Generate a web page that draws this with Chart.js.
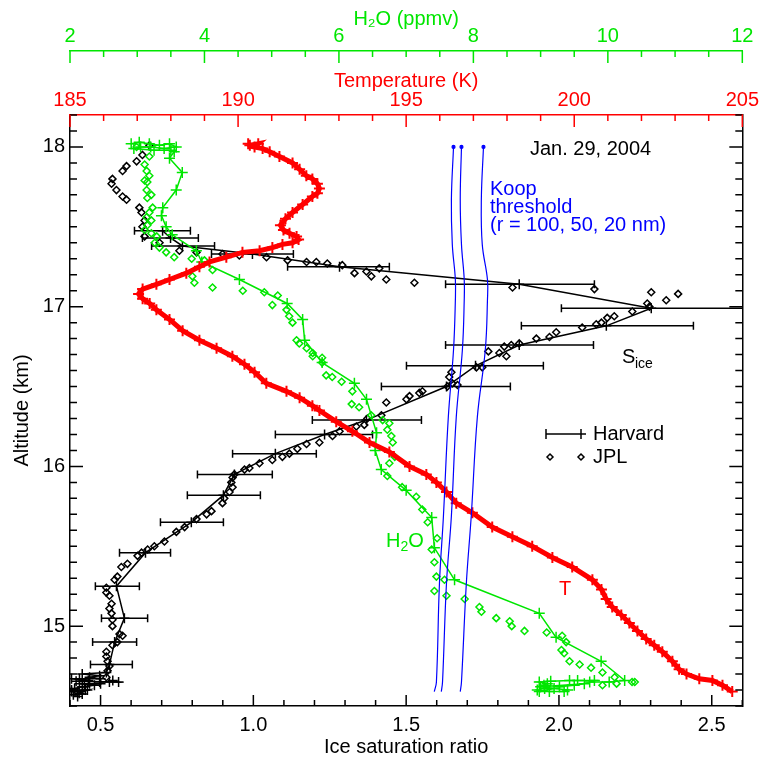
<!DOCTYPE html>
<html>
<head>
<meta charset="utf-8">
<script src="https://cdn.jsdelivr.net/npm/chart.js@4.4.1/dist/chart.umd.min.js"></script>
<style>
  html, body { margin: 0; padding: 0; background: #fff; }
  #wrap { width: 762px; height: 757px; position: relative; }
</style>
</head>
<body>
<div id="wrap"><canvas id="chart"></canvas></div>
<script>
/* ===================== DATA ===================== */
// Harvard S_ice (line + crosses); first entries carry horizontal error bars
const harvAlt = [17.475, 17.43, 17.38, 17.33, 17.25, 17.14, 16.99, 16.88, 16.76, 16.63, 16.50, 16.29, 16.20, 16.08, 15.95, 15.82, 15.65, 15.46, 15.25, 15.05, 14.90, 14.76,
  14.71, 14.70, 14.69, 14.68, 14.67, 14.67, 14.67, 14.66, 14.655, 14.65, 14.66, 14.65, 14.65, 14.64, 14.64, 14.64, 14.63, 14.62, 14.62, 14.61,
  14.60, 14.60, 14.59, 14.59, 14.60, 14.58, 14.575, 14.57, 14.56];
const harvSice = [0.703, 0.729, 0.768, 0.997, 1.282, 1.870, 2.302, 2.155, 1.870, 1.727, 1.632, 1.370, 1.233, 1.072, 0.938, 0.902, 0.797, 0.647, 0.552, 0.578, 0.546, 0.529,
  0.519, 0.440, 0.497, 0.464, 0.500, 0.431, 0.405, 0.460, 0.420, 0.559, 0.540, 0.529, 0.497, 0.500, 0.464, 0.431, 0.480, 0.447, 0.440, 0.415,
  0.405, 0.450, 0.405, 0.425, 0.457, 0.430, 0.440, 0.411, 0.425];
const harvLo = [0.611, 0.637, 0.667, 0.863, 1.112, 1.629, 2.008, 1.877, 1.629, 1.501, 1.419, 1.193, 1.072, 0.932, 0.817, 0.784, 0.696, 0.562, 0.483, 0.503, 0.474, 0.467];
const harvHi = [0.794, 0.820, 0.873, 1.131, 1.445, 2.116, 2.650, 2.440, 2.113, 1.949, 1.841, 1.550, 1.390, 1.206, 1.062, 1.023, 0.902, 0.729, 0.627, 0.654, 0.618, 0.604];

// JPL S_ice (diamonds)
const jplAlt = [18.01, 17.95, 17.91, 17.88, 17.85, 17.80, 17.77, 17.73, 17.69, 17.67, 17.62, 17.59, 17.54, 17.50, 17.44, 17.40, 17.35, 17.34, 17.33, 17.32,
  17.31, 17.29, 17.28, 17.28, 17.27, 17.26, 17.21, 17.22, 17.19, 17.24, 17.17, 17.15, 17.12, 17.11, 17.09, 17.04, 17.08, 17.02, 17.00, 16.97,
  16.94, 16.93, 16.90, 16.89, 16.87, 16.84, 16.81, 16.80, 16.77, 16.76, 16.75, 16.72, 16.71, 16.69, 16.62, 16.62, 16.59, 16.56, 16.51, 16.52,
  16.50, 16.47, 16.46, 16.44, 16.42, 16.40, 16.32, 16.30, 16.26, 16.25, 16.22, 16.19, 16.15, 16.14, 16.11, 16.08, 16.06, 16.04, 16.02, 15.99,
  15.98, 15.95, 15.93, 15.90, 15.87, 15.84, 15.80, 15.77, 15.72, 15.70, 15.67, 15.62, 15.59, 15.53, 15.50, 15.48, 15.46, 15.44, 15.39, 15.37,
  15.31, 15.29, 15.24, 15.21, 15.19, 15.14, 15.11, 15.08, 15.04, 15.00, 14.95, 14.94, 14.90, 14.88, 14.84, 14.81, 14.78, 14.75, 14.72, 14.68];
const jplSice = [0.660, 0.637, 0.618, 0.585, 0.572, 0.539, 0.536, 0.552, 0.572, 0.585, 0.627, 0.634, 0.644, 0.637, 0.644, 0.693, 0.758, 0.814, 0.899, 0.954,
  1.043, 1.112, 1.174, 1.206, 1.242, 1.291, 1.331, 1.370, 1.386, 1.412, 1.435, 1.527, 1.848, 2.116, 2.302, 2.351, 2.390, 2.289, 2.296, 2.240,
  2.181, 2.158, 2.139, 2.122, 2.076, 1.991, 1.969, 1.926, 1.870, 1.844, 1.821, 1.769, 1.805, 1.828, 1.749, 1.730, 1.648, 1.641, 1.668, 1.651,
  1.635, 1.553, 1.543, 1.511, 1.501, 1.435, 1.419, 1.373, 1.363, 1.337, 1.282, 1.259, 1.216, 1.174, 1.144, 1.118, 1.095, 1.062, 1.020, 0.987,
  0.971, 0.938, 0.932, 0.928, 0.932, 0.922, 0.905, 0.899, 0.863, 0.847, 0.814, 0.775, 0.748, 0.709, 0.676, 0.654, 0.634, 0.621, 0.588, 0.568,
  0.555, 0.546, 0.519, 0.519, 0.529, 0.536, 0.529, 0.536, 0.539, 0.539, 0.562, 0.572, 0.555, 0.539, 0.519, 0.519, 0.523, 0.529, 0.523, 0.519];

// Harvard H2O (ppmv, line + crosses)
const h2oHarvAlt = [18.02, 18.03, 18.02, 18.01, 18.02, 18.00, 17.99, 18.00, 18.00, 17.99, 17.98, 17.98, 17.97,
  17.93, 17.84, 17.73, 17.62, 17.57, 17.50, 17.45, 17.35, 17.28, 17.17, 17.02, 16.92, 16.79, 16.65, 16.52, 16.42,
  16.21, 16.10, 15.98, 15.85, 15.68, 15.49, 15.29, 15.08, 14.93, 14.78, 14.66,
  14.65, 14.65, 14.66, 14.66, 14.66, 14.655, 14.65, 14.64, 14.63, 14.62, 14.63, 14.64, 14.62, 14.60, 14.59, 14.59, 14.60, 14.59, 14.61, 14.61];
const h2oHarvPpm = [2.91, 3.03, 3.18, 3.33, 3.48, 3.58, 3.40, 3.20, 3.05, 2.95, 3.25, 3.50, 3.55,
  3.48, 3.67, 3.58, 3.38, 3.36, 3.43, 3.52, 3.88, 3.96, 4.52, 5.23, 5.46, 5.49, 5.75, 6.23, 6.41,
  6.56, 6.54, 6.63, 7.00, 7.38, 7.42, 7.72, 8.98, 9.23, 9.90, 10.25,
  10.02, 9.73, 9.80, 9.55, 9.43, 9.15, 8.98, 9.10, 9.05, 9.28, 9.50, 9.65, 9.00, 9.40, 9.35, 9.13, 8.95, 8.98, 9.20, 9.06];

// JPL H2O (ppmv, diamonds)
const h2oJplAlt = [18.00, 17.94, 17.89, 17.85, 17.82, 17.79, 17.78, 17.73, 17.70, 17.68, 17.62, 17.59, 17.56, 17.54, 17.51, 17.48, 17.46, 17.44, 17.40, 17.37,
  17.34, 17.31, 17.30, 17.29, 17.23, 17.19, 17.15, 17.12, 17.10, 17.09, 17.07, 17.01, 16.98, 16.94, 16.90, 16.79, 16.77, 16.74, 16.71, 16.69,
  16.68, 16.65, 16.57, 16.56, 16.53, 16.47, 16.39, 16.37, 16.32, 16.29, 16.27, 16.23, 16.19, 16.15, 16.06, 16.02, 15.94, 15.87, 15.81, 15.73,
  15.65, 15.55, 15.48, 15.40, 15.31, 15.29, 15.22, 15.19, 15.17, 15.12, 15.09, 15.05, 15.03, 15.00, 14.97, 14.96, 14.94, 14.90, 14.85, 14.83,
  14.78, 14.76, 14.74, 14.71, 14.68, 14.65, 14.64, 14.65, 14.63];
const h2oJplPpm = [2.99, 3.18, 3.11, 3.14, 3.18, 3.11, 3.15, 3.14, 3.21, 3.15, 3.23, 3.18, 3.14, 3.21, 3.15, 3.11, 3.21, 3.29, 3.26, 3.33,
  3.43, 3.55, 3.81, 4.00, 4.12, 3.82, 3.85, 4.12, 4.57, 4.89, 5.09, 5.01, 5.22, 5.26, 5.31, 5.37, 5.41, 5.52, 5.61, 5.61,
  5.75, 5.75, 5.81, 5.90, 6.04, 6.20, 6.19, 6.30, 6.48, 6.65, 6.75, 6.72, 6.78, 6.80, 6.83, 6.75, 6.72, 6.94, 7.15, 7.24,
  7.32, 7.46, 7.38, 7.42, 7.45, 7.57, 7.42, 7.60, 7.87, 8.09, 8.12, 8.34, 8.54, 8.57, 8.76, 9.09, 9.32, 9.38, 9.31, 9.35,
  9.43, 9.58, 9.75, 9.92, 10.10, 10.40, 10.13, 10.36, 9.92];

// Temperature (K)
const tAlt = [18.02, 18.01, 18.02, 18.00, 17.99, 17.97, 17.94, 17.90, 17.86, 17.82, 17.80, 17.77, 17.74, 17.71, 17.69, 17.64, 17.59, 17.55, 17.51, 17.48, 17.46, 17.44,
  17.42, 17.40, 17.39, 17.37, 17.35, 17.34, 17.31, 17.28, 17.25, 17.21, 17.17, 17.14, 17.11, 17.08, 17.05, 17.02, 16.98, 16.92, 16.85, 16.79,
  16.74, 16.69, 16.64, 16.59, 16.52, 16.47, 16.43, 16.38, 16.35, 16.28, 16.22, 16.15, 16.09, 16.00, 15.95, 15.90, 15.84, 15.77, 15.71, 15.62,
  15.56, 15.50, 15.43, 15.37, 15.29, 15.23, 15.17, 15.12, 15.07, 15.02, 14.97, 14.92, 14.88, 14.84, 14.78, 14.73, 14.70, 14.67, 14.66, 14.63, 14.59];
const tK = [190.30, 190.35, 190.60, 190.49, 190.73, 190.94, 191.23, 191.62, 191.83, 192.03, 192.21, 192.36, 192.42, 192.36, 192.21, 191.92, 191.62, 191.41, 191.26, 191.35, 191.53, 191.74,
  191.80, 191.62, 191.32, 191.02, 190.64, 190.13, 189.65, 189.15, 188.85, 188.46, 187.96, 187.57, 187.16, 187.04, 187.16, 187.37, 187.57, 187.96, 188.35, 188.85,
  189.36, 189.83, 190.19, 190.49, 190.84, 191.44, 191.83, 192.21, 192.42, 192.92, 193.40, 193.91, 194.50, 195.10, 195.60, 195.90, 196.20, 196.49, 196.97, 197.56,
  198.16, 198.75, 199.35, 199.94, 200.54, 200.81, 200.95, 201.13, 201.40, 201.64, 201.88, 202.14, 202.38, 202.62, 202.92, 203.12, 203.34, 203.72, 204.11, 204.41, 204.70];

// Koop homogeneous freezing thresholds (S_ice) for r = 100, 50, 20 nm
const koopAlt = [18.00, 17.67, 17.39, 17.17, 17.04, 16.73, 16.31, 15.69, 15.27, 14.65, 14.59];
const koop100 = [1.655, 1.648, 1.651, 1.661, 1.661, 1.655, 1.638, 1.622, 1.609, 1.599, 1.592];
const koop50  = [1.681, 1.677, 1.681, 1.690, 1.690, 1.684, 1.664, 1.648, 1.632, 1.619, 1.615];
const koop20  = [1.753, 1.746, 1.749, 1.766, 1.766, 1.759, 1.733, 1.713, 1.697, 1.681, 1.677];

/* ===================== STYLE ===================== */
const GREEN = "#00e600", RED = "#ff0000", BLUE = "#0000ff", BLACK = "#000000";
const FONT = '"Liberation Sans", Arial, Helvetica, sans-serif';

/* ===================== UTILITIES ===================== */
const pts = (xs, ys) => xs.map((x, i) => ({ x, y: ys[i] }));
const isMult = (v, s) => Math.abs(v / s - Math.round(v / s)) < 1e-6;

// tick spec per scale: major step, major/minor tick length, colour
const tickSpec = {
  x:  { major: 0.5, len: [11, 6], color: BLACK },
  y:  { major: 1,   len: [13, 7], color: BLACK },
  y2: { major: 1,   len: [13, 7], color: BLACK },
  xT: { major: 5,   len: [12, 6], color: RED },
  xH: { major: 2,   len: [12, 6], color: GREEN }
};

function axis(id, position, min, max, step, fmt, size, extra) {
  const s = tickSpec[id];
  return Object.assign({
    type: "linear", position, min, max,
    grid: { display: false, drawTicks: false },
    border: { display: true, color: s.color, width: 1.5 },
    ticks: {
      stepSize: step, autoSkip: false, maxRotation: 0, color: s.color, padding: 3,
      font: { family: FONT, size: 20 },
      callback: v => isMult(v, s.major) ? fmt(v) : ""
    },
    afterFit: sc => { if (sc.isHorizontal()) sc.height = size; else sc.width = size; }
  }, extra || {});
}

/* ===================== PLUGINS ===================== */
// inward tick marks on every axis
const innerTicks = {
  id: "innerTicks",
  afterDraw(chart) {
    const ctx = chart.ctx;
    Object.keys(tickSpec).forEach(id => {
      const sc = chart.scales[id], s = tickSpec[id];
      ctx.save();
      ctx.strokeStyle = s.color;
      ctx.lineWidth = 1.5;
      ctx.beginPath();
      sc.ticks.forEach(t => {
        const p = sc.getPixelForValue(t.value);
        const len = isMult(t.value, s.major) ? s.len[0] : s.len[1];
        if (sc.position === "bottom") { ctx.moveTo(p, sc.top); ctx.lineTo(p, sc.top - len); }
        else if (sc.position === "top") { ctx.moveTo(p, sc.bottom); ctx.lineTo(p, sc.bottom + len); }
        else if (sc.position === "left") { ctx.moveTo(sc.right, p); ctx.lineTo(sc.right + len, p); }
        else { ctx.moveTo(sc.left, p); ctx.lineTo(sc.left - len, p); }
      });
      ctx.stroke();
      ctx.restore();
    });
  }
};

// horizontal error bars on the Harvard S_ice series
const errorBars = {
  id: "errorBars",
  afterDatasetDraw(chart, args) {
    if (chart.data.datasets[args.index].label !== "Harvard") return;
    const { ctx, chartArea: a, scales: { x, y } } = chart;
    ctx.save();
    ctx.beginPath();
    ctx.rect(a.left, a.top, a.right - a.left, a.bottom - a.top);
    ctx.clip();
    ctx.strokeStyle = BLACK;
    ctx.lineWidth = 1.5;
    ctx.beginPath();
    harvLo.forEach((lo, i) => {
      const py = y.getPixelForValue(harvAlt[i]);
      const x0 = x.getPixelForValue(lo), x1 = x.getPixelForValue(harvHi[i]);
      ctx.moveTo(x0, py); ctx.lineTo(x1, py);
      ctx.moveTo(x0, py - 4); ctx.lineTo(x0, py + 4);
      ctx.moveTo(x1, py - 4); ctx.lineTo(x1, py + 4);
    });
    ctx.stroke();
    ctx.restore();
  }
};

// text annotations and the small legend
const notes = {
  id: "notes",
  afterDraw(chart) {
    const ctx = chart.ctx;
    ctx.save();
    ctx.textBaseline = "alphabetic";
    ctx.font = `20px ${FONT}`;

    ctx.fillStyle = BLACK;
    ctx.fillText("Jan. 29, 2004", 530, 155);

    ctx.fillStyle = BLUE;
    ctx.fillText("Koop", 490, 195);
    ctx.fillText("threshold", 490, 213);
    ctx.fillText("(r = 100, 50, 20 nm)", 490, 231);

    // S_ice
    ctx.fillStyle = BLACK;
    ctx.fillText("S", 622, 363);
    ctx.font = `14px ${FONT}`;
    ctx.fillText("ice", 635, 368);

    // H2O label
    ctx.fillStyle = GREEN;
    ctx.font = `20px ${FONT}`;
    ctx.fillText("H", 386, 547);
    let w = ctx.measureText("H").width;
    ctx.font = `14px ${FONT}`;
    ctx.fillText("2", 386 + w, 551);
    const w2 = ctx.measureText("2").width;
    ctx.font = `20px ${FONT}`;
    ctx.fillText("O", 386 + w + w2, 547);

    ctx.fillStyle = RED;
    ctx.fillText("T", 559, 595);

    // legend
    ctx.fillStyle = BLACK;
    ctx.fillText("Harvard", 593, 440);
    ctx.fillText("JPL", 593, 463);
    ctx.strokeStyle = BLACK;
    ctx.lineWidth = 1.5;
    ctx.beginPath();
    ctx.moveTo(546, 434); ctx.lineTo(586, 434);
    ctx.moveTo(546, 429); ctx.lineTo(546, 439);
    ctx.moveTo(581, 429); ctx.lineTo(581, 439);
    [550, 581].forEach(cx => {
      ctx.moveTo(cx, 454); ctx.lineTo(cx + 3, 457); ctx.lineTo(cx, 460); ctx.lineTo(cx - 3, 457); ctx.closePath();
    });
    ctx.stroke();
    ctx.restore();
  }
};

/* ===================== CHART ===================== */
const koopSet = (label, xs) => ({
  label, data: pts(xs, koopAlt), showLine: true, tension: 0.4,
  borderColor: BLUE, borderWidth: 1.2, pointRadius: c => c.dataIndex === 0 ? 1.5 : 0,
  pointBackgroundColor: BLUE, pointBorderColor: BLUE, xAxisID: "x", yAxisID: "y", order: 0
});

new Chart(document.getElementById("chart"), {
  type: "scatter",
  data: {
    datasets: [
      koopSet("Koop 100", koop100),
      koopSet("Koop 50", koop50),
      koopSet("Koop 20", koop20),
      {
        label: "T", data: pts(tK, tAlt), showLine: true, xAxisID: "xT", yAxisID: "y", order: 1,
        borderColor: RED, borderWidth: 5, pointStyle: "cross", pointRadius: 5.5,
        pointBorderColor: RED, pointBorderWidth: 2
      },
      {
        label: "H2O Harvard", data: pts(h2oHarvPpm, h2oHarvAlt), showLine: true, xAxisID: "xH", yAxisID: "y", order: 2,
        borderColor: GREEN, borderWidth: 1.5, pointStyle: "cross", pointRadius: 5.5,
        pointBorderColor: GREEN, pointBorderWidth: 1.5
      },
      {
        label: "H2O JPL", data: pts(h2oJplPpm, h2oJplAlt), xAxisID: "xH", yAxisID: "y", order: 3,
        pointStyle: "rectRot", pointRadius: 3.5, pointBorderColor: GREEN,
        pointBackgroundColor: "rgba(0,0,0,0)", pointBorderWidth: 1.5
      },
      {
        label: "Harvard", data: pts(harvSice, harvAlt), showLine: true, xAxisID: "x", yAxisID: "y", order: 4,
        borderColor: BLACK, borderWidth: 1.5, pointStyle: "cross", pointRadius: 5,
        pointBorderColor: BLACK, pointBorderWidth: 1.5
      },
      {
        label: "JPL", data: pts(jplSice, jplAlt), xAxisID: "x", yAxisID: "y", order: 5,
        pointStyle: "rectRot", pointRadius: 3.5, pointBorderColor: BLACK,
        pointBackgroundColor: "rgba(0,0,0,0)", pointBorderWidth: 1.5
      }
    ]
  },
  options: {
    responsive: true,
    maintainAspectRatio: false,
    devicePixelRatio: 1,
    animation: false,
    layout: { padding: 0 },
    plugins: { legend: { display: false }, tooltip: { enabled: false } },
    scales: {
      x: axis("x", "bottom", 0.4, 2.6, 0.1, v => v.toFixed(1), 51, {
        ticks: {
          stepSize: 0.1, autoSkip: false, maxRotation: 0, color: BLACK, padding: 7,
          font: { family: FONT, size: 20 },
          callback: v => isMult(v, 0.5) ? v.toFixed(1) : ""
        },
        title: { display: true, text: "Ice saturation ratio", color: BLACK, font: { family: FONT, size: 20 }, padding: { top: 0, bottom: -2 } }
      }),
      y: axis("y", "left", 14.5, 18.2, 0.1, v => String(Math.round(v)), 70, {
        ticks: {
          stepSize: 0.1, autoSkip: false, color: BLACK, padding: 5,
          font: { family: FONT, size: 20 },
          callback: v => isMult(v, 1) ? String(Math.round(v)) : ""
        },
        title: { display: true, text: "Altitude (km)", color: BLACK, font: { family: FONT, size: 20 }, padding: { top: 10, bottom: 0 } }
      }),
      y2: axis("y2", "right", 14.5, 18.2, 0.1, () => "", 19, {
        ticks: { stepSize: 0.1, display: false }
      }),
      xT: axis("xT", "top", 185, 205, 1, v => String(Math.round(v)), 64, {
        weight: 0,
        title: { display: true, text: "Temperature (K)", color: RED, font: { family: FONT, size: 20 }, padding: { top: 18, bottom: 0 } }
      }),
      xH: axis("xH", "top", 2, 12, 0.5, v => String(Math.round(v)), 51, {
        weight: 1,
        title: { display: true, text: "H\u2082O (ppmv)", color: GREEN, font: { family: FONT, size: 20 }, padding: { top: 7, bottom: 0 } }
      })
    }
  },
  plugins: [errorBars, innerTicks, notes]
});
</script>
</body>
</html>
